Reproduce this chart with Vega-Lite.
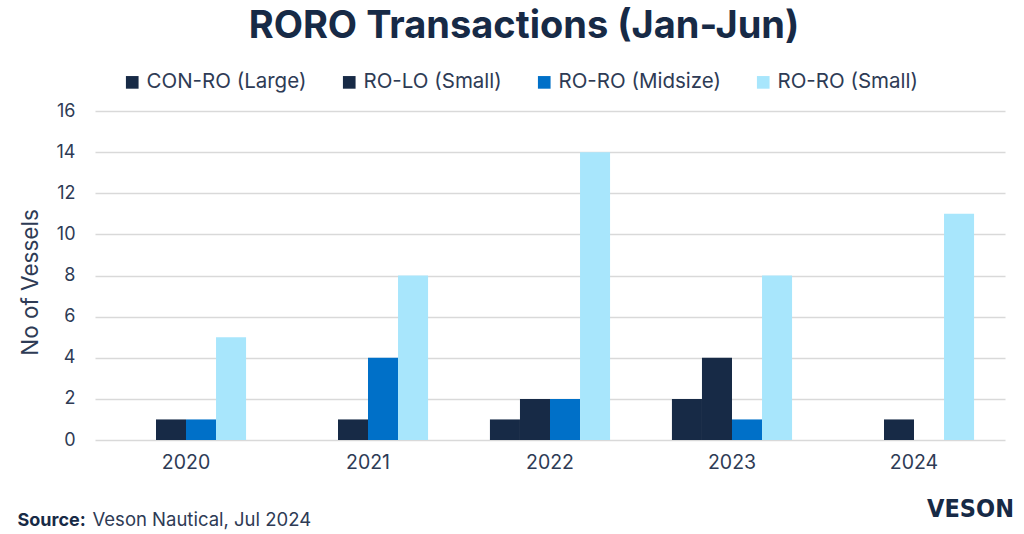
{
  "$schema": "https://vega.github.io/schema/vega-lite/v6.json",
  "width": 910,
  "height": 329,
  "autosize": {"type": "none"},
  "padding": {"left": 95, "top": 111, "right": 19, "bottom": 94},
  "background": "white",
  "config": {"font": "Inter", "view": {"stroke": null}},
  "title": {
    "text": "RORO Transactions (Jan-Jun)",
    "fontSize": 38,
    "fontWeight": "bold",
    "color": "#172A46",
    "anchor": "middle",
    "frame": "group",
    "dx": -26,
    "offset": 3
  },
  "data": {
    "values": [
      {"year": "2020", "series": "CON-RO (Large)", "value": 0},
      {"year": "2020", "series": "RO-LO (Small)", "value": 1},
      {"year": "2020", "series": "RO-RO (Midsize)", "value": 1},
      {"year": "2020", "series": "RO-RO (Small)", "value": 5},
      {"year": "2021", "series": "CON-RO (Large)", "value": 0},
      {"year": "2021", "series": "RO-LO (Small)", "value": 1},
      {"year": "2021", "series": "RO-RO (Midsize)", "value": 4},
      {"year": "2021", "series": "RO-RO (Small)", "value": 8},
      {"year": "2022", "series": "CON-RO (Large)", "value": 1},
      {"year": "2022", "series": "RO-LO (Small)", "value": 2},
      {"year": "2022", "series": "RO-RO (Midsize)", "value": 2},
      {"year": "2022", "series": "RO-RO (Small)", "value": 14},
      {"year": "2023", "series": "CON-RO (Large)", "value": 2},
      {"year": "2023", "series": "RO-LO (Small)", "value": 4},
      {"year": "2023", "series": "RO-RO (Midsize)", "value": 1},
      {"year": "2023", "series": "RO-RO (Small)", "value": 8},
      {"year": "2024", "series": "CON-RO (Large)", "value": 0},
      {"year": "2024", "series": "RO-LO (Small)", "value": 1},
      {"year": "2024", "series": "RO-RO (Midsize)", "value": 0},
      {"year": "2024", "series": "RO-RO (Small)", "value": 11}
    ]
  },
  "layer": [
    {
      "mark": {"type": "bar"},
      "encoding": {
        "x": {
          "field": "year",
          "type": "nominal",
          "scale": {"paddingInner": 0.34, "paddingOuter": 0.17},
          "axis": {
            "title": "Source:",
            "titleFontWeight": "bold",
            "titleFontSize": 18,
            "titleColor": "#172A46",
            "titleX": -78,
            "titleY": 85,
            "titleAlign": "left",
            "titleBaseline": "alphabetic",
            "labelAngle": 0,
            "labelFontSize": 19.5,
            "labelColor": "#2E3B55",
            "labelPadding": 13,
            "ticks": false,
            "domain": false,
            "grid": false
          }
        },
        "xOffset": {
          "field": "series",
          "type": "nominal",
          "sort": ["CON-RO (Large)", "RO-LO (Small)", "RO-RO (Midsize)", "RO-RO (Small)"],
          "scale": {"paddingInner": 0, "paddingOuter": 0}
        },
        "y": {
          "field": "value",
          "type": "quantitative",
          "scale": {"domain": [0, 16]},
          "axis": {
            "values": [0, 2, 4, 6, 8, 10, 12, 14, 16],
            "title": "No of Vessels",
            "titleFontSize": 22.5,
            "titleFontWeight": "normal",
            "titleColor": "#2E3B55",
            "titleX": -65,
            "titleY": 171,
            "titleAngle": -90,
            "titleAlign": "center",
            "titleBaseline": "middle",
            "labelFontSize": 18,
            "labelColor": "#2E3B55",
            "labelPadding": 20,
            "grid": true,
            "gridColor": "#D9D9D9",
            "gridWidth": 1.5,
            "domain": false,
            "ticks": false
          }
        },
        "color": {
          "field": "series",
          "type": "nominal",
          "scale": {
            "domain": ["CON-RO (Large)", "RO-LO (Small)", "RO-RO (Midsize)", "RO-RO (Small)"],
            "range": ["#172A46", "#172A46", "#0070C8", "#A8E6FC"]
          },
          "legend": {
            "title": null,
            "orient": "none",
            "legendX": 27,
            "legendY": -39,
            "direction": "horizontal",
            "symbolType": "square",
            "symbolSize": 160,
            "symbolStrokeWidth": 0,
            "labelFontSize": 20.5,
            "labelColor": "#2E3B55",
            "columnPadding": 32,
            "labelOffset": 4,
            "labelLimit": 300
          }
        }
      }
    },
    {
      "mark": {"type": "bar", "opacity": 0},
      "encoding": {
        "x": {
          "field": "year",
          "type": "nominal",
          "axis": {
            "orient": "top",
            "labels": false,
            "ticks": false,
            "domain": false,
            "grid": false,
            "title": "VESON",
            "titleFont": "DejaVu Sans Condensed",
            "titleFontSize": 25,
            "titleFontWeight": "bold",
            "titleColor": "#172A46",
            "titleX": 875,
            "titleY": 405,
            "titleAlign": "center",
            "titleBaseline": "alphabetic"
          }
        },
        "y": {
          "field": "value",
          "type": "quantitative",
          "scale": {"domain": [0, 16]},
          "axis": {
            "orient": "right",
            "labels": false,
            "ticks": false,
            "domain": false,
            "grid": false,
            "title": "Veson Nautical, Jul 2024",
            "titleAngle": 0,
            "titleX": -913,
            "titleY": 414,
            "titleAlign": "left",
            "titleBaseline": "alphabetic",
            "titleFontSize": 18.5,
            "titleFontWeight": "normal",
            "titleColor": "#2E3B55"
          }
        }
      }
    }
  ],
  "resolve": {
    "scale": {"x": "independent", "y": "independent", "xOffset": "independent"},
    "axis": {"x": "independent", "y": "independent"}
  }
}
